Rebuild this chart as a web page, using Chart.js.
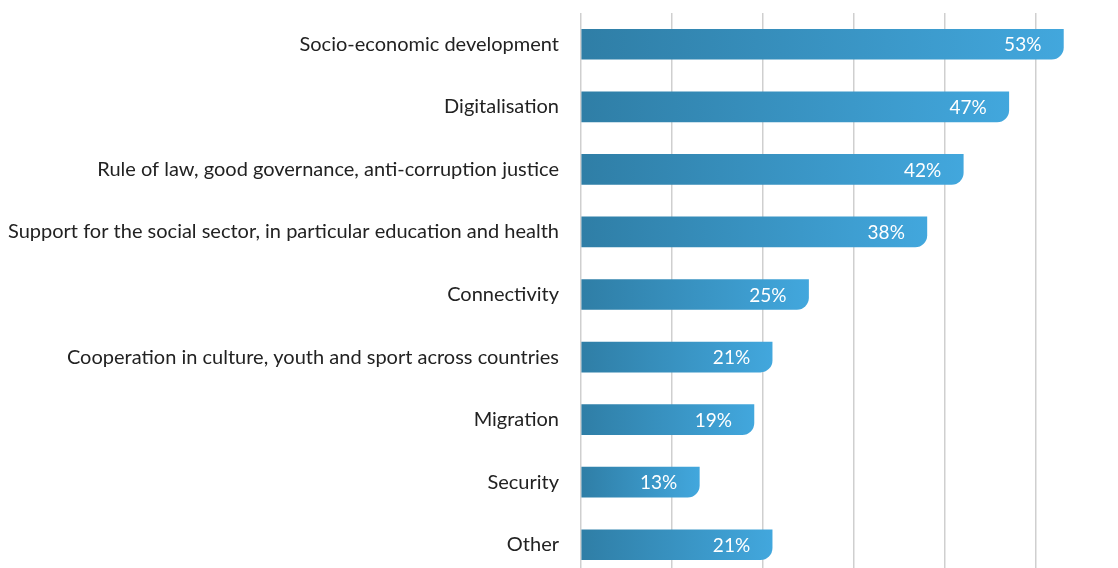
<!DOCTYPE html>
<html lang="en">
<head>
<meta charset="UTF-8">
<title>Priorities</title>
<script src="https://cdn.jsdelivr.net/npm/chart.js"></script>
<style>
  html, body { margin: 0; padding: 0; background: #fff; overflow: hidden; }
  .box { position: relative; width: 1118px; height: 577px; }
</style>
</head>
<body>
<div class="box">
  <canvas id="grafico"></canvas>
</div>
<script>
// categorias e valores (%)
const categorias = [
  'Socio-economic development',
  'Digitalisation',
  'Rule of law, good governance, anti-corruption justice',
  'Support for the social sector, in particular education and health',
  'Connectivity',
  'Cooperation in culture, youth and sport across countries',
  'Migration',
  'Security',
  'Other'
];
const valores = [53, 47, 42, 38, 25, 21, 19, 13, 21];

const corInicio = '#2f7ea6';
const corFim = '#42a7dd';
const fonte = 'Lato, "Open Sans", sans-serif';

// gradiente horizontal do início ao fim de cada barra
function gradienteBarra(context) {
  const chart = context.chart;
  const escala = chart.scales.x;
  if (!chart.chartArea || !escala) return corFim;
  const x0 = escala.getPixelForValue(0);
  const x1 = escala.getPixelForValue(context.raw);
  const g = chart.ctx.createLinearGradient(x0, 0, x1, 0);
  g.addColorStop(0, corInicio);
  g.addColorStop(1, corFim);
  return g;
}

// escreve o valor dentro da barra, perto do fim
const rotulosValor = {
  id: 'rotulosValor',
  afterDatasetsDraw(chart) {
    const ctx = chart.ctx;
    const meta = chart.getDatasetMeta(0);
    ctx.save();
    ctx.fillStyle = '#ffffff';
    ctx.font = '19px ' + fonte;
    ctx.textAlign = 'right';
    ctx.textBaseline = 'middle';
    meta.data.forEach(function (barra, i) {
      ctx.fillText(valores[i] + '%', barra.x - 22, barra.y + 1);
    });
    ctx.restore();
  }
};

new Chart(document.getElementById('grafico'), {
  type: 'bar',
  data: {
    labels: categorias,
    datasets: [{
      data: valores,
      backgroundColor: gradienteBarra,
      borderWidth: 0,
      borderRadius: { topLeft: 0, topRight: 0, bottomLeft: 0, bottomRight: 12 },
      borderSkipped: false,
      barThickness: 30
    }]
  },
  options: {
    indexAxis: 'y',
    responsive: true,
    maintainAspectRatio: false,
    animation: false,
    layout: { padding: { top: 13, bottom: 1, left: 0, right: 0 } },
    plugins: {
      legend: { display: false },
      tooltip: { enabled: false }
    },
    scales: {
      x: {
        min: 0,
        max: 59,
        afterFit: function (scale) {
          scale.height = 0;
          scale.paddingLeft = 0;
          scale.paddingRight = 0;
        },
        ticks: { display: false, stepSize: 10 },
        grid: {
          color: function (c) { return c.tick && c.tick.value % 10 === 0 ? '#cfcfcf' : 'rgba(0,0,0,0)'; },
          lineWidth: 1.5,
          drawTicks: false
        },
        border: { display: false }
      },
      y: {
        afterFit: function (scale) {
          scale.width = 581;
          scale.paddingTop = 0;
          scale.paddingBottom = 0;
        },
        ticks: {
          color: '#222222',
          padding: 22,
          font: { family: fonte, size: 20 }
        },
        grid: { display: false, drawTicks: false },
        border: { display: false }
      }
    }
  },
  plugins: [rotulosValor]
});
</script>
</body>
</html>
